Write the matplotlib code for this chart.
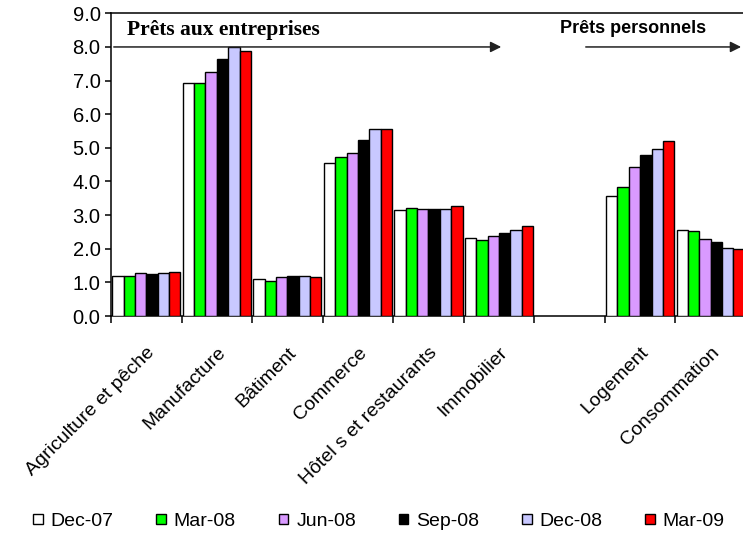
import numpy as np
import matplotlib
matplotlib.use("Agg")
import matplotlib.pyplot as plt
from matplotlib.ticker import FixedLocator, FormatStrFormatter

# Categories (the blank slot separates business loans from personal loans)
categories = [
    "Agriculture et pêche", "Manufacture", "Bâtiment", "Commerce",
    "Hôtel s et restaurants", "Immobilier", "", "Logement", "Consommation",
]
periods = ["Dec-07", "Mar-08", "Jun-08", "Sep-08", "Dec-08", "Mar-09"]

dec07 = [1.20, 6.93, 1.11, 4.55, 3.14, 2.31, np.nan, 3.56, 2.57]
mar08 = [1.20, 6.93, 1.05, 4.72, 3.22, 2.27, np.nan, 3.85, 2.53]
jun08 = [1.28, 7.26, 1.15, 4.84, 3.17, 2.39, np.nan, 4.43, 2.28]
sep08 = [1.24, 7.64, 1.19, 5.23, 3.17, 2.48, np.nan, 4.78, 2.19]
dec08 = [1.28, 8.00, 1.19, 5.56, 3.17, 2.57, np.nan, 4.97, 2.02]
mar09 = [1.32, 7.89, 1.15, 5.56, 3.26, 2.68, np.nan, 5.21, 1.98]

series = [dec07, mar08, jun08, sep08, dec08, mar09]
colors = ["#FFFFFF", "#00FF00", "#D99AFF", "#000000", "#C8C8FF", "#FF0000"]

SANS = "Liberation Sans"
SERIF = "Liberation Serif"

fig = plt.figure(figsize=(7.43, 5.35), dpi=100, facecolor="white")
ax = fig.add_axes([0.1494, 0.4093, 0.8546, 0.5658])

x = np.arange(len(categories))
width = 0.161
for i, (vals, col, name) in enumerate(zip(series, colors, periods)):
    ax.bar(x + (i - 2.5) * width, vals, width=width, color=col,
           edgecolor="black", linewidth=1.0, label=name, zorder=3)

ax.set_xlim(-0.5, len(categories) - 0.5)
ax.set_ylim(0, 9)
ax.yaxis.set_major_locator(FixedLocator(np.arange(0, 10)))
ax.yaxis.set_major_formatter(FormatStrFormatter("%.1f"))

ax.set_xticks(x)
ax.set_xticklabels(categories, rotation=45, ha="right", va="top",
                   rotation_mode="anchor", fontfamily=SANS, fontsize=14)
ax.xaxis.set_minor_locator(FixedLocator(np.arange(len(categories) + 1) - 0.5))
ax.tick_params(axis="x", which="major", length=0, pad=20)
ax.tick_params(axis="x", which="minor", length=5, width=1.1, direction="out")
ax.tick_params(axis="y", length=4.5, width=1.1, direction="out", pad=3)
for lbl in ax.get_yticklabels():
    lbl.set_fontfamily(SANS)
    lbl.set_fontsize(14.5)

for spine in ax.spines.values():
    spine.set_linewidth(1.1)
    spine.set_color("black")

# Section headings with arrows
ax.text(-0.27, 8.5, "Prêts aux entreprises", fontfamily=SERIF,
        fontweight="bold", fontsize=15.5, ha="left", va="center")
ax.annotate("", xy=(5.07, 8.0), xytext=(-0.5, 8.0),
            arrowprops=dict(arrowstyle="-|>", mutation_scale=16,
                            lw=1.1, color="#222222"), annotation_clip=False)
ax.text(5.86, 8.56, "Prêts personnels", fontfamily=SANS,
        fontweight="bold", fontsize=13, ha="left", va="center")
ax.annotate("", xy=(8.47, 8.0), xytext=(6.19, 8.0),
            arrowprops=dict(arrowstyle="-|>", mutation_scale=16,
                            lw=1.1, color="#222222"), annotation_clip=False)

fig.legend(loc="center", bbox_to_anchor=(0.51, 0.026), ncol=6,
           frameon=False, prop={"family": SANS, "size": 14},
           handlelength=0.5, handleheight=0.4, handletextpad=0.4,
           columnspacing=2.2, borderaxespad=0)

fig.savefig("out.png", dpi=100, facecolor="white")
